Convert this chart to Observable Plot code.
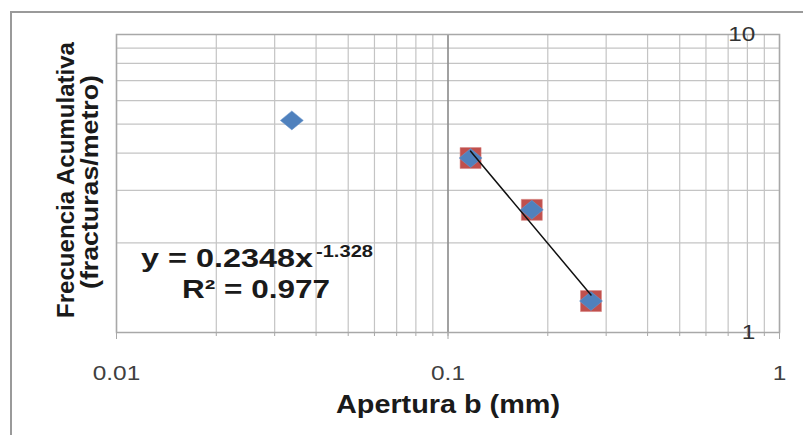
<!DOCTYPE html>
<html><head><meta charset="utf-8">
<script src="https://cdn.jsdelivr.net/npm/d3@7"></script>
<script src="https://cdn.jsdelivr.net/npm/@observablehq/plot@0.6"></script>
<style>
html,body{margin:0;padding:0;background:#fff;}
#wrap{position:relative;width:803px;height:435px;overflow:hidden;background:#fff;}
#border{position:absolute;left:10px;top:11px;width:900px;height:600px;border-left:2px solid #9a9a9a;border-top:2px solid #9a9a9a;pointer-events:none;}
</style></head><body>
<div id="wrap"><div id="border"></div></div>
<script>
// Serie 1 (rombos azules)
const apertura = [0.0338, 0.117, 0.179, 0.27];
const frecuencia = [5.15, 3.85, 2.58, 1.275];
// Serie 2 (cuadrados rojos, datos ajustados)
const aperturaAjuste = [0.117, 0.179, 0.27];
const frecuenciaAjuste = [3.85, 2.58, 1.275];
// Línea de tendencia potencial (extremos leídos)
const tendenciaX = [0.117, 0.27];
const tendenciaY = [4.06, 1.336];
// Ejes
const xTickValues = [0.01, 0.1, 1];
const xTickLabels = ["0.01", "0.1", "1"];
const yTickValues = [1, 10];
const yTickLabels = ["1", "10"];
const xGridValues = [0.01,0.02,0.03,0.04,0.05,0.06,0.07,0.08,0.09,0.1,0.2,0.3,0.4,0.5,0.6,0.7,0.8,0.9,1];
const yGridValues = [1,2,3,4,5,6,7,8,9,10];
const yAxisCross = 0.8;
const xTitle = "Apertura b (mm)";
const yTitle = ["Frecuencia Acumulativa", "(fracturas/metro)"];
const eqMain = "y = 0.2348x";
const eqExp = "-1.328";
const eqR2 = "R² = 0.977";

const serie1 = apertura.map((x, i) => ({x, y: frecuencia[i]}));
const serie2 = aperturaAjuste.map((x, i) => ({x, y: frecuenciaAjuste[i]}));
const tendencia = tendenciaX.map((x, i) => ({x, y: tendenciaY[i]}));
const xLabelMap = new Map(xTickValues.map((v, i) => [v, xTickLabels[i]]));
const yLabelMap = new Map(yTickValues.map((v, i) => [v, yTickLabels[i]]));

const diamond = {draw(ctx, size) {
  const r = Math.sqrt(size / Math.PI);
  const w = r * 1.15, h = r * 0.95;
  ctx.moveTo(0, -h); ctx.lineTo(w, 0); ctx.lineTo(0, h); ctx.lineTo(-w, 0); ctx.closePath();
}};
const square = {draw(ctx, size) {
  const r = Math.sqrt(size / Math.PI) * 1.05;
  ctx.rect(-r, -r, 2 * r, 2 * r);
}};

const chart = Plot.plot({
  width: 803, height: 435,
  marginLeft: 116, marginRight: 24, marginTop: 34, marginBottom: 103,
  style: {fontFamily: "'Liberation Sans', Arial, sans-serif", fontSize: "19px", color: "#404040", background: "transparent", overflow: "visible"},
  x: {type: "log", domain: [0.01, 1]},
  y: {type: "log", domain: [1, 10]},
  marks: [
    Plot.gridX(xGridValues, {stroke: "#c4c4c4", strokeOpacity: 1, strokeWidth: 1.2}),
    Plot.gridY(yGridValues, {stroke: "#c4c4c4", strokeOpacity: 1, strokeWidth: 1.2}),
    Plot.ruleX([0.1], {stroke: "#7a7a7a", strokeWidth: 1.2}),
    Plot.frame({stroke: "#a8a8a8", strokeWidth: 1.5}),
    Plot.axisX(xGridValues, {tickSize: 4, stroke: "#a8a8a8", tickFormat: () => "", label: null}),
    Plot.axisX(xTickValues, {tickSize: 7, tickPadding: 26, stroke: "#a8a8a8", tickFormat: d => xLabelMap.get(d), label: null, fill: "#404040", fontSize: 20}),
    Plot.axisY([], {label: null}),
    Plot.text(yTickValues, {x: () => yAxisCross, y: d => d, text: d => yLabelMap.get(d), textAnchor: "end", dx: 8, fill: "#333", fontSize: 20}),
    Plot.dot(serie2, {x: "x", y: "y", symbol: square, r: 10, fill: "#c0504d", stroke: "#d9827f", strokeWidth: 0.5}),
    Plot.dot(serie1, {x: "x", y: "y", symbol: diamond, r: 10, fill: "#4f81bd", stroke: "#6f9bd1", strokeWidth: 0.5}),
    Plot.line(tendencia, {x: "x", y: "y", stroke: "#111", strokeWidth: 1.5})
  ]
});
document.getElementById("wrap").appendChild(chart);

// Ensanchar las etiquetas de marcas como en la referencia
d3.select(chart).selectAll("g[aria-label='x-axis tick label'] text, g[aria-label='text'] text").each(function () {
  const w = this.getComputedTextLength();
  if (w > 0) { this.setAttribute("textLength", (w * 1.22).toFixed(1)); this.setAttribute("lengthAdjust", "spacingAndGlyphs"); }
});

const svg = d3.select(chart);
const bold = "'Liberation Sans', Arial, sans-serif";
function addText(x, y, size, str, len, anchor, transform) {
  const t = svg.append("text").attr("text-anchor", anchor)
    .attr("font-family", bold).attr("font-weight", "bold").attr("font-size", size).attr("fill", "#1a1a1a")
    .attr("textLength", len).attr("lengthAdjust", "spacingAndGlyphs").text(str);
  if (transform) t.attr("transform", transform); else t.attr("x", x).attr("y", y);
  return t;
}
// Títulos de ejes
addText(448, 413, 25, xTitle, 224, "middle");
addText(0, 0, 24, yTitle[0], 276, "middle", "translate(74,180) rotate(-90)");
addText(0, 0, 24, yTitle[1], 214, "middle", "translate(98,182) rotate(-90)");
// Ecuación
addText(141, 267, 25, eqMain, 172, "start");
addText(316, 257, 16, eqExp, 57, "start");
addText(182, 298, 25, eqR2, 148, "start");
</script>
</body></html>
